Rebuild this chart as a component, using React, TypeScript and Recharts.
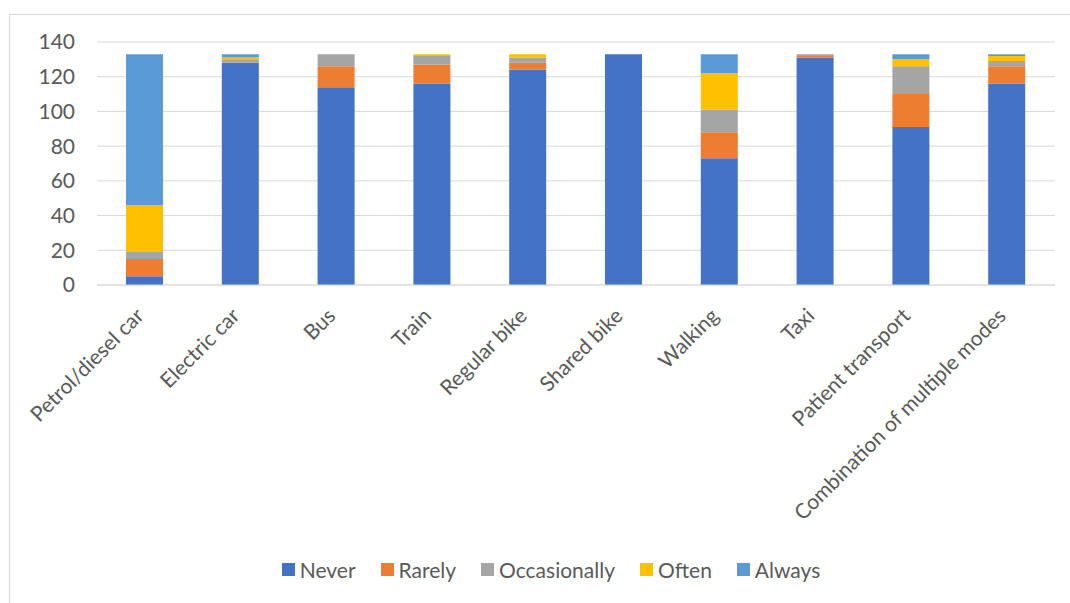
import { Bar, BarChart, CartesianGrid, Legend, XAxis, YAxis } from "recharts"

const modes = [
  "Petrol/diesel car",
  "Electric car",
  "Bus",
  "Train",
  "Regular bike",
  "Shared bike",
  "Walking",
  "Taxi",
  "Patient transport",
  "Combination of multiple modes",
]

const never = [5, 128, 114, 116, 124, 133, 73, 131, 91, 116]
const rarely = [10, 0, 12, 11, 4, 0, 15, 1, 19, 10]
const occasionally = [4, 2, 7, 5, 3, 0, 13, 1, 16, 3]
const often = [27, 1, 0, 1, 2, 0, 21, 0, 4, 3]
const always = [87, 2, 0, 0, 0, 0, 11, 0, 3, 1]

const yTicks = [0, 20, 40, 60, 80, 100, 120, 140]

const seriesKeys = ["never", "rarely", "occasionally", "often", "always"]
const seriesNames = ["Never", "Rarely", "Occasionally", "Often", "Always"]
const seriesColors = ["#4472C4", "#ED7D31", "#A5A5A5", "#FFC000", "#5B9BD5"]

const data = modes.map((mode, i) => ({
  mode,
  never: never[i],
  rarely: rarely[i],
  occasionally: occasionally[i],
  often: often[i],
  always: always[i],
}))

const FONT = "Lato, 'Open Sans', sans-serif"
const TEXT = "#595959"

function AngledTick({ x, y, payload }: any) {
  return (
    <g transform={`translate(${x - 5},${y + 19})`}>
      <text transform="rotate(-45)" textAnchor="end" dy="0.35em" fill={TEXT} fontSize={21} fontFamily={FONT}>
        {payload.value}
      </text>
    </g>
  )
}

function LegendRow() {
  return (
    <div style={{ display: "flex", justifyContent: "center", gap: 25, fontFamily: FONT, fontSize: 21, color: TEXT }}>
      {seriesNames.map((name, i) => (
        <div key={name} style={{ display: "flex", alignItems: "center", gap: 5 }}>
          <span style={{ width: 13, height: 13, background: seriesColors[i], display: "inline-block" }} />
          <span>{name}</span>
        </div>
      ))}
    </div>
  )
}

export default function App() {
  return (
    <div style={{ position: "relative", width: 1070, height: 603, overflow: "hidden", background: "#fff" }}>
      <style>{"body{margin:0}"}</style>
      <div
        style={{
          position: "absolute",
          left: 9,
          top: 14,
          width: 1080,
          height: 600,
          borderLeft: "1px solid #d9d9d9",
          borderTop: "1px solid #d9d9d9",
        }}
      />
      <div style={{ position: "absolute", left: 9, top: 14 }}>
        <BarChart
          width={1062}
          height={589}
          data={data}
          barSize={37}
          margin={{ top: 28, right: 16, left: 28, bottom: 78 }}
        >
          <CartesianGrid vertical={false} stroke="#d9d9d9" />
          <XAxis
            dataKey="mode"
            height={240}
            interval={0}
            tick={<AngledTick />}
            tickLine={false}
            axisLine={{ stroke: "#d9d9d9" }}
          />
          <YAxis
            width={60}
            domain={[0, 140]}
            ticks={yTicks}
            tickLine={false}
            axisLine={false}
            tickMargin={16}
            tick={{ fill: TEXT, fontSize: 21, fontFamily: FONT }}
          />
          <Legend
            verticalAlign="middle"
            align="center"
            wrapperStyle={{ top: 543, left: 0, width: 1084 }}
            content={() => <LegendRow />}
          />
          {seriesKeys.map((key, i) => (
            <Bar
              key={key}
              dataKey={key}
              name={seriesNames[i]}
              stackId="a"
              fill={seriesColors[i]}
              isAnimationActive={false}
            />
          ))}
        </BarChart>
      </div>
    </div>
  )
}
